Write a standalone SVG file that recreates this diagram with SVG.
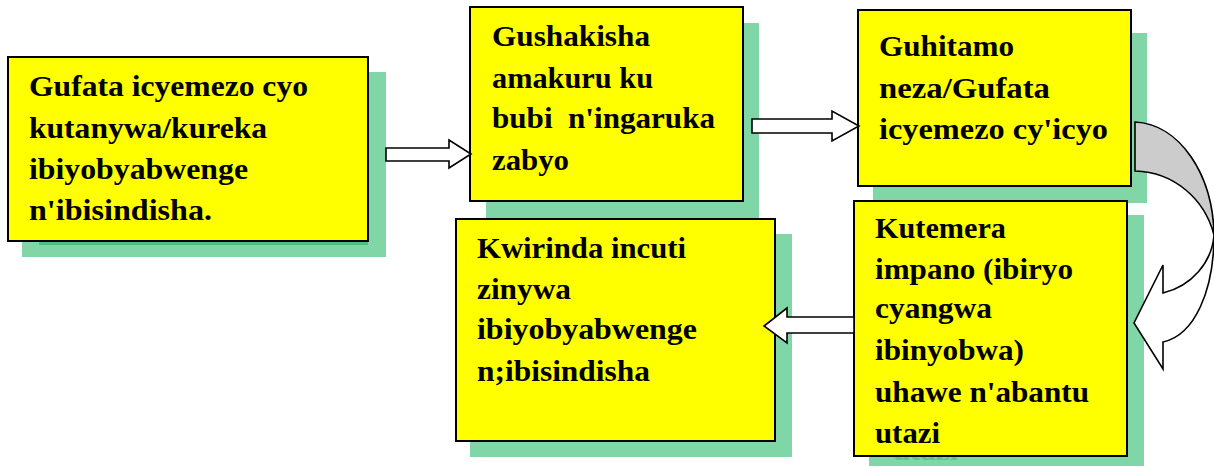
<svg xmlns="http://www.w3.org/2000/svg" width="1214" height="466" viewBox="0 0 1214 466">
<style>
.sh{fill:#80D6A6}
.bx{fill:#FFFF00;stroke:#000;stroke-width:2}
.t{font-family:"Liberation Serif","Times New Roman",serif;font-weight:bold;font-size:29px;fill:#000}
.ghost{font-family:"Liberation Serif","Times New Roman",serif;font-weight:bold;font-size:29px;fill:#5EC48C}
.ar{fill:#fff;stroke:#000;stroke-width:1.6;stroke-linejoin:miter}
.cg{fill:#CCCCCC;stroke:#000;stroke-width:1.6}
</style>
<defs>
<clipPath id="below5"><rect x="869" y="457" width="275" height="9"/></clipPath>
</defs>
<rect width="1214" height="466" fill="#fff"/>
<g id="node1">
<rect class="sh" x="22" y="72" width="364" height="185"/>
<rect x="39" y="241" width="329" height="4" fill="#48C27C"/>
<rect class="bx" x="8" y="57" width="360" height="184"/>
<text class="t" x="29" y="96" textLength="279" lengthAdjust="spacingAndGlyphs">Gufata icyemezo cyo</text>
<text class="t" x="29" y="138" textLength="238" lengthAdjust="spacingAndGlyphs">kutanywa/kureka</text>
<text class="t" x="29" y="179" textLength="219" lengthAdjust="spacingAndGlyphs">ibiyobyabwenge</text>
<text class="t" x="29" y="220" textLength="183" lengthAdjust="spacingAndGlyphs">n'ibisindisha.</text>
</g>
<g id="node2">
<rect class="sh" x="486" y="23" width="273" height="195"/>
<rect class="bx" x="470" y="7" width="273" height="194"/>
<text class="t" x="492" y="46" textLength="158" lengthAdjust="spacingAndGlyphs">Gushakisha</text>
<text class="t" x="492" y="88" textLength="161" lengthAdjust="spacingAndGlyphs">amakuru ku</text>
<text class="t" x="492" y="128" textLength="223" lengthAdjust="spacingAndGlyphs" xml:space="preserve">bubi  n'ingaruka</text>
<text class="t" x="492" y="170" textLength="77" lengthAdjust="spacingAndGlyphs">zabyo</text>
</g>
<g id="node3">
<rect class="sh" x="873" y="33" width="274" height="170"/>
<rect class="bx" x="858" y="10" width="273" height="176"/>
<text class="t" x="879" y="56" textLength="135" lengthAdjust="spacingAndGlyphs">Guhitamo</text>
<text class="t" x="879" y="98" textLength="171" lengthAdjust="spacingAndGlyphs">neza/Gufata</text>
<text class="t" x="879" y="139" textLength="229" lengthAdjust="spacingAndGlyphs">icyemezo cy'icyo</text>
</g>
<g id="node5">
<rect class="sh" x="869" y="215" width="275" height="251"/>
<g clip-path="url(#below5)"><text class="ghost" x="893" y="460" textLength="65" lengthAdjust="spacingAndGlyphs">utazi</text></g>
<rect class="bx" x="854" y="201" width="273" height="255"/>
<text class="t" x="875" y="238" textLength="131" lengthAdjust="spacingAndGlyphs">Kutemera</text>
<text class="t" x="875" y="279" textLength="198" lengthAdjust="spacingAndGlyphs">impano (ibiryo</text>
<text class="t" x="875" y="318" textLength="117" lengthAdjust="spacingAndGlyphs">cyangwa</text>
<text class="t" x="875" y="360" textLength="149" lengthAdjust="spacingAndGlyphs">ibinyobwa)</text>
<text class="t" x="875" y="402" textLength="214" lengthAdjust="spacingAndGlyphs">uhawe n'abantu</text>
<text class="t" x="875" y="443" textLength="65" lengthAdjust="spacingAndGlyphs">utazi</text>
</g>
<g id="node4">
<rect class="sh" x="470" y="234" width="322" height="223"/>
<rect class="bx" x="456" y="219" width="319" height="222"/>
<text class="t" x="477" y="258" textLength="209" lengthAdjust="spacingAndGlyphs">Kwirinda incuti</text>
<text class="t" x="477" y="299" textLength="94" lengthAdjust="spacingAndGlyphs">zinywa</text>
<text class="t" x="477" y="339" textLength="220" lengthAdjust="spacingAndGlyphs">ibiyobyabwenge</text>
<text class="t" x="477" y="381" textLength="173" lengthAdjust="spacingAndGlyphs">n;ibisindisha</text>
</g>
<g id="connectors">
<polygon class="ar" points="386,148 449,148 449,140 471,154 449,168 449,161 386,161"/>
<polygon class="ar" points="752,119 832,119 832,111 859,126 832,141 832,133 752,133"/>
<polygon class="ar" points="854,317 787,317 787,308 764,326 787,343 787,333 854,333"/>
<path class="cg" d="M1135,122 C1180,124 1213,175 1214,235 C1205,200 1175,172 1135,171 Z"/>
<path class="ar" d="M1214,235 C1214,290 1195,335 1163,342 L1163,369 L1134,323 L1163,265 L1163,293 C1192,286 1212,262 1214,235 Z"/>
</g>
</svg>
